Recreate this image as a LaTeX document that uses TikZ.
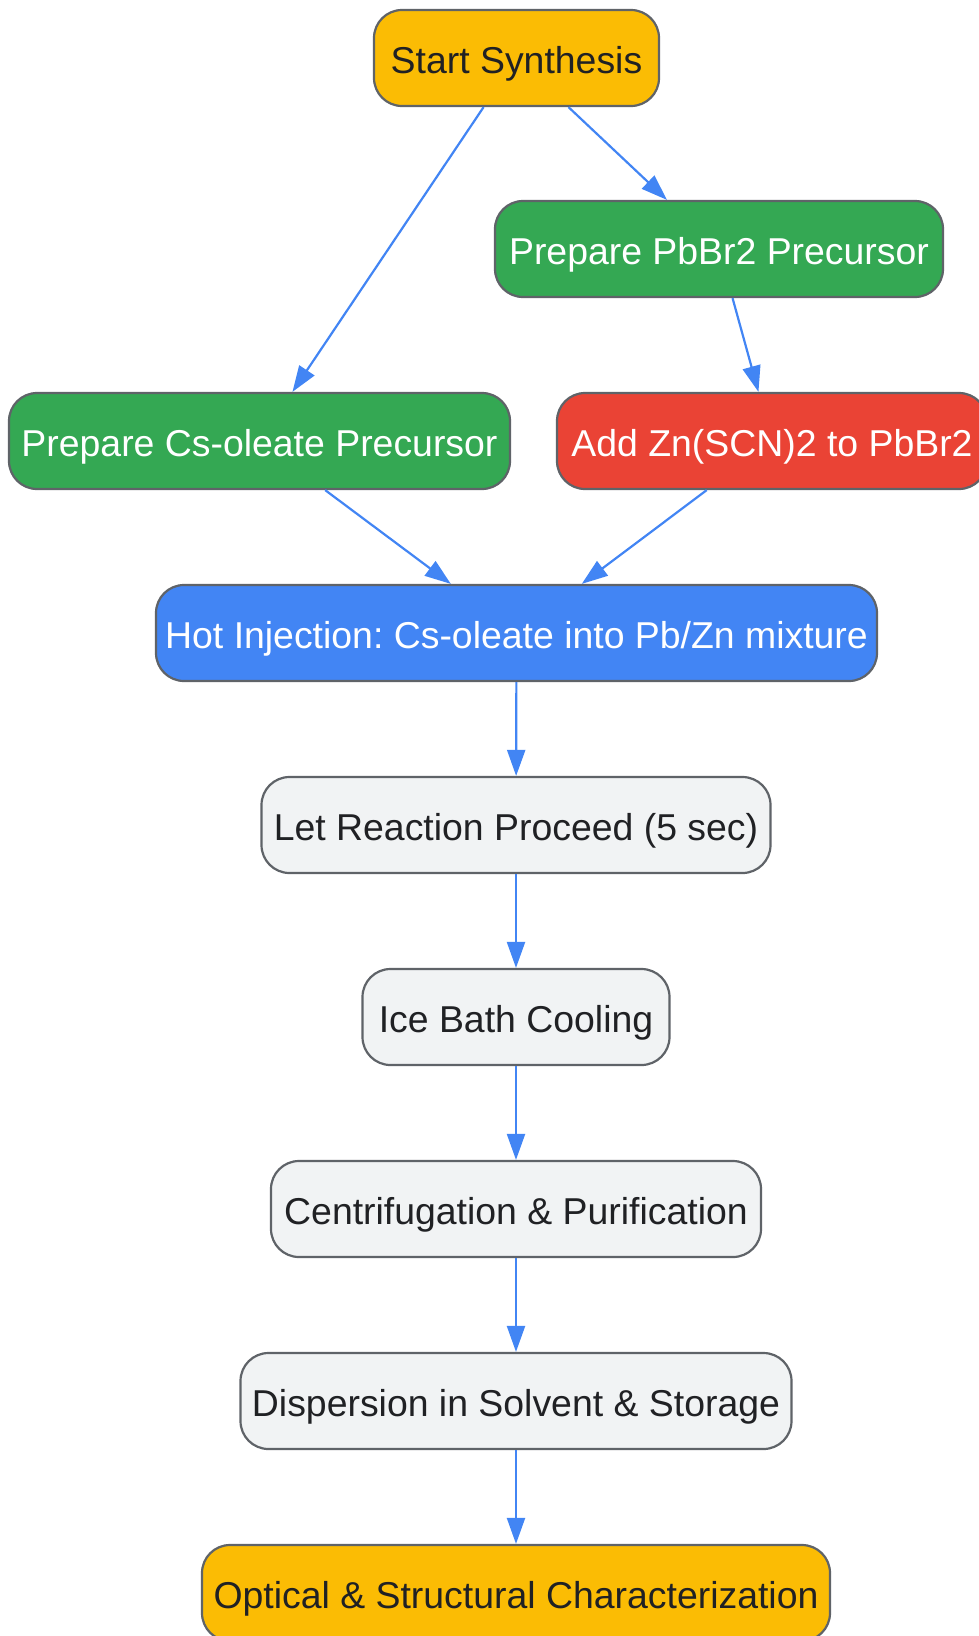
\documentclass[tikz,border=0pt]{standalone}
\usepackage{fontspec}
\setmainfont{Liberation Sans}
\usetikzlibrary{arrows.meta}

\definecolor{startcol}{HTML}{FBBC04}
\definecolor{prepcol}{HTML}{34A853}
\definecolor{zinccol}{HTML}{EA4335}
\definecolor{injectcol}{HTML}{4285F4}
\definecolor{stepcol}{HTML}{F1F3F4}
\definecolor{edgecol}{HTML}{5F6368}
\definecolor{darktext}{HTML}{202124}
\definecolor{arrowcol}{HTML}{4285F4}

\tikzstyle{box} = [draw=edgecol,line width=2.2pt,rounded corners=28pt,minimum height=96pt,inner sep=0pt,text height=30pt,text depth=0pt,font=\fontsize{37.4}{44}\selectfont\frenchspacing]
\tikzstyle{darkbox} = [box,text=darktext]
\tikzstyle{lightbox} = [box,text=white]
\tikzstyle{arrow} = [line width=2.2pt,draw=arrowcol,-{Triangle[length=26pt,width=18pt,fill=arrowcol]}]

\begin{document}
\begin{tikzpicture}[x=1pt,y=-1pt]

\useasboundingbox (0,0) rectangle (979,1636);

% Start
\node [darkbox,fill=startcol,minimum width=285pt] (start) at (516.5,58) {Start Synthesis};

% Precursors
\node [lightbox,fill=prepcol,minimum width=448pt] (pbbr) at (719,249) {Prepare PbBr2 Precursor};
\node [lightbox,fill=prepcol,minimum width=501pt] (csoleate) at (259.5,441) {Prepare Cs-oleate Precursor};
\node [lightbox,fill=zinccol,minimum width=430pt] (zinc) at (772,441) {Add Zn(SCN)2 to PbBr2};

% Injection
\node [lightbox,fill=injectcol,minimum width=721pt] (inject) at (516.5,633) {Hot Injection: Cs-oleate into Pb/Zn mixture};

% Work-up steps
\node [darkbox,fill=stepcol,minimum width=509pt] (react) at (516,825) {Let Reaction Proceed (5 sec)};
\node [darkbox,fill=stepcol,minimum width=307pt] (ice) at (516,1017) {Ice Bath Cooling};
\node [darkbox,fill=stepcol,minimum width=490pt] (centri) at (516,1209) {Centrifugation \& Purification};
\node [darkbox,fill=stepcol,minimum width=551pt] (disp) at (516,1401) {Dispersion in Solvent \& Storage};

% End
\node [darkbox,fill=startcol,minimum width=628pt] (optic) at (516,1593) {Optical \& Structural Characterization};

% Connectors
\draw [arrow] (start) -- (csoleate);
\draw [arrow] (start) -- (pbbr);
\draw [arrow] (pbbr) -- (zinc);
\draw [arrow] (csoleate) -- (inject);
\draw [arrow] (zinc) -- (inject);
\draw [arrow] (inject) -- (react);
\draw [arrow] (react) -- (ice);
\draw [arrow] (ice) -- (centri);
\draw [arrow] (centri) -- (disp);
\draw [arrow] (disp) -- (optic);

\end{tikzpicture}
\end{document}
